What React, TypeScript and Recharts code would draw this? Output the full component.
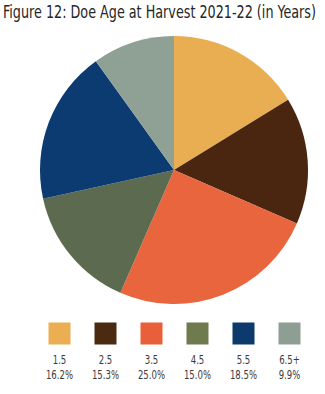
import { PieChart, Pie, Cell } from "recharts";

const AGES = ["1.5", "2.5", "3.5", "4.5", "5.5", "6.5+"];
const SHARES = [16.2, 15.3, 25.0, 15.0, 18.5, 9.9];
const PIE_COLORS = ["#E9AD52", "#4A2610", "#E8653D", "#5C6B4F", "#0B3B70", "#8FA095"];
const SWATCH_COLORS = ["#EBAE52", "#4B2A12", "#E85F3A", "#6F7B4D", "#0D3A6C", "#8E9E93"];

const TITLE = "Figure 12: Doe Age at Harvest 2021-22 (in Years)";

const FONT = "'DejaVu Sans Condensed', 'Liberation Sans Narrow', 'Roboto', sans-serif";

const data = AGES.map((age, i) => ({ name: age, value: SHARES[i] }));

// squeeze factor so the condensed font reads like the narrow face in the reference
const TITLE_SX = 0.8;
const LABEL_SX = 0.76;

export default function App() {
  return (
    <div style={{ position: "absolute", left: 0, top: 0, width: 325, height: 394, background: "#fff" }}>
      <PieChart width={325} height={394} margin={{ top: 0, right: 0, bottom: 0, left: 0 }}>
        <g transform={`translate(3,17.5) scale(${TITLE_SX},1)`}>
          <text
            x={0}
            y={0}
            textLength={313 / TITLE_SX}
            lengthAdjust="spacingAndGlyphs"
            fill="#262626"
            style={{ fontFamily: FONT, fontSize: 17, fontWeight: 500 }}
          >
            {TITLE}
          </text>
        </g>
        <Pie
          data={data}
          dataKey="value"
          nameKey="name"
          cx={174}
          cy={170}
          innerRadius={0}
          outerRadius={134}
          startAngle={90}
          endAngle={-270}
          stroke="none"
          isAnimationActive={false}
        >
          {data.map((d, i) => (
            <Cell key={d.name} fill={PIE_COLORS[i]} />
          ))}
        </Pie>
        {/* legend: swatch, age, share */}
        {AGES.map((age, i) => {
          const cx = 59.5 + i * 46;
          return (
            <g key={age}>
              <rect x={cx - 11} y={322.5} width={22} height={22} fill={SWATCH_COLORS[i]} />
              <g transform={`translate(${cx},363.5) scale(${LABEL_SX},1)`}>
                <text x={0} y={0} textAnchor="middle" fill="#3a3a3a" style={{ fontFamily: FONT, fontSize: 12.5 }}>
                  {age}
                </text>
              </g>
              <g transform={`translate(${cx},378.5) scale(${LABEL_SX},1)`}>
                <text x={0} y={0} textAnchor="middle" fill="#3a3a3a" style={{ fontFamily: FONT, fontSize: 12.5 }}>
                  {SHARES[i].toFixed(1)}%
                </text>
              </g>
            </g>
          );
        })}
      </PieChart>
    </div>
  );
}
